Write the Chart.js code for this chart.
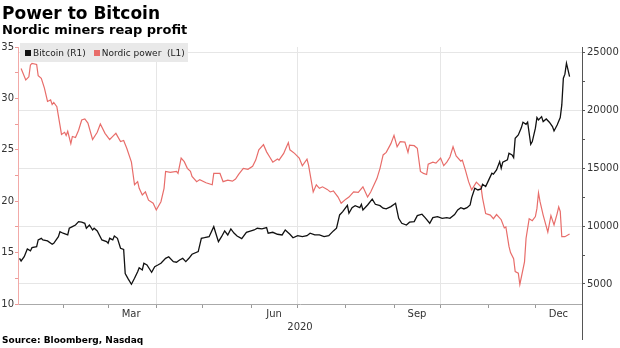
<!DOCTYPE html>
<html>
<head>
<meta charset="utf-8">
<title>Power to Bitcoin</title>
<script src="https://cdn.jsdelivr.net/npm/chart.js@4.4.1/dist/chart.umd.min.js"></script>
<style>
  body { margin: 0; background: #fff; }
  #wrap { position: relative; width: 620px; height: 348px; font-family: "DejaVu Sans", sans-serif; color: #000; }
  #chart { position: absolute; left: 0; top: 0; }
  .title { position: absolute; left: 2px; top: 3px; font-weight: bold; font-size: 17px; line-height: 20px; white-space: nowrap; }
  .subtitle { position: absolute; left: 2px; top: 22px; font-weight: bold; font-size: 13px; line-height: 16px; white-space: nowrap; }
  .legend { position: absolute; left: 20px; top: 43px; width: 168px; height: 19px; background: #e9e9e9;
            font-size: 9px; color: #222; display: flex; align-items: center; white-space: nowrap; }
  .legend .sw { display: inline-block; width: 6px; height: 6px; margin: 0 2px 0 5px; }
  .source { position: absolute; left: 2px; top: 335px; font-weight: bold; font-size: 9px; line-height: 11px; white-space: nowrap; }
</style>
</head>
<body>
<div id="wrap">
  <canvas id="chart" width="620" height="348"></canvas>
  <div class="title">Power to Bitcoin</div>
  <div class="subtitle">Nordic miners reap profit</div>
  <div class="legend">
    <span class="sw" style="background:#111"></span>Bitcoin (R1)
    <span class="sw" style="background:#e86d6a;margin-left:8px"></span>Nordic power&nbsp;&nbsp;(L1)
  </div>
  <div class="source">Source: Bloomberg, Nasdaq</div>
</div>
<script>
// day of year 2020 (Jan 1 = 0)
const btcDays = [
  3, 4, 6, 8, 10, 11, 14, 15, 17, 18,
  21, 24, 25, 28, 29, 31, 34, 35, 37, 39,
  41, 43, 45, 46, 48, 50, 51, 53, 56, 59,
  60, 61, 63, 64, 66, 68, 70, 71, 73, 75,
  77, 79, 80, 82, 83, 85, 88, 90, 92, 94,
  97, 99, 102, 104, 106, 108, 110, 112, 114, 118,
  120, 122, 125, 128, 129, 131, 133, 135, 137, 139,
  141, 143, 146, 149, 152, 154, 156, 159, 162, 163,
  166, 169, 172, 174, 177, 179, 182, 185, 188, 190,
  193, 196, 199, 202, 205, 207, 209, 211, 214, 215,
  217, 219, 222, 223, 224, 227, 230, 232, 235, 237,
  239, 242, 245, 247, 249, 252, 254, 257, 259, 262,
  264, 267, 269, 272, 275, 278, 280, 283, 285, 287,
  289, 291, 293, 294, 296, 298, 300, 301, 303, 305,
  307, 308, 310, 312, 313, 314, 317, 318, 320, 321,
  322, 324, 326, 327, 329, 330, 332, 333, 335, 336,
  337, 339, 340, 342, 344, 346, 347, 349, 351, 352,
  353, 354, 355, 356, 357
];
// Bitcoin, USD (right axis)
const btcPrice = [
  7220, 6990, 7360, 8030, 7860, 8140, 8230, 8810, 8950, 8810,
  8720, 8430, 8520, 9090, 9520, 9390, 9240, 9820, 9960, 10100,
  10390, 10340, 10250, 9820, 10100, 9670, 9820, 9590, 8810, 8660,
  8520, 8950, 8810, 9150, 8950, 8090, 7980, 5900, 5420, 4980,
  5490, 6060, 6410, 6210, 6790, 6640, 6010, 6500, 6640, 6790,
  7220, 7360, 6930, 6880, 7080, 7220, 6930, 7220, 7570, 7800,
  8950, 9000, 9090, 9960, 9520, 8660, 9090, 9590, 9240, 9760,
  9400, 9150, 8920, 9470, 9590, 9670, 9820, 9760, 9870, 9390,
  9470, 9300, 9240, 9670, 9300, 9000, 9180, 9090, 9180, 9390,
  9240, 9240, 9090, 9180, 9590, 9820, 10970, 11250, 11800, 11120,
  11600, 11770, 11600, 11890, 11400, 11830, 12330, 11890, 11770, 11550,
  11490, 11690, 11980, 10680, 10250, 10100, 10340, 10390, 10910, 11030,
  10740, 10250, 10740, 10820, 10680, 10740, 10680, 11000, 11400, 11600,
  11490, 11600, 11830, 12470, 13280, 13130, 13220, 13620, 13420, 14000,
  14580, 14490, 14860, 15580, 15010, 15530, 15730, 16310, 16160, 15930,
  17600, 17890, 18520, 18990, 18810, 18990, 17080, 17310, 18470, 19390,
  19190, 19470, 19040, 19270, 18990, 18610, 18230, 18750, 19390, 20480,
  22790, 23140, 24090, 23510, 22930
];

const powerDays = [
  4, 7, 9, 10, 11, 14, 15, 17, 19, 21,
  23, 24, 25, 27, 29, 30, 32, 33, 34, 36,
  37, 39, 41, 43, 45, 47, 50, 53, 55, 58,
  61, 63, 65, 68, 70, 72, 75, 77, 79, 80,
  82, 84, 86, 89, 91, 94, 96, 97, 100, 104,
  105, 107, 109, 111, 113, 114, 117, 119, 123, 127,
  128, 132, 134, 137, 140, 142, 144, 147, 150, 153,
  155, 157, 160, 162, 164, 166, 169, 170, 173, 174,
  176, 177, 180, 183, 185, 188, 189, 192, 194, 196,
  198, 201, 203, 205, 208, 210, 213, 215, 218, 221,
  224, 227, 229, 233, 235, 237, 239, 242, 244, 246,
  248, 251, 253, 254, 257, 259, 261, 263, 265, 266,
  269, 271, 274, 276, 278, 280, 282, 284, 287, 288,
  290, 292, 294, 297, 300, 301, 303, 306, 308, 310,
  313, 315, 316, 318, 319, 321, 322, 324, 325, 328,
  329, 331, 333, 335, 336, 337, 338, 340, 343, 345,
  347, 349, 350, 351, 352, 354, 357
];
// Nordic system power price, EUR/MWh (left axis)
const powerPrice = [
  32.9, 31.8, 32.1, 33.25, 33.4, 33.3, 32.2, 31.95, 31.0, 29.7,
  29.85, 29.4, 29.6, 29.2, 27.4, 26.5, 26.7, 26.4, 26.8, 25.6,
  26.3, 26.2, 26.9, 27.9, 28.0, 27.6, 26.0, 26.7, 27.5, 26.6,
  26.0, 26.3, 26.6, 25.8, 25.9, 25.15, 23.8, 21.6, 21.9, 21.25,
  20.6, 20.9, 20.1, 19.8, 19.15, 19.95, 21.25, 22.9, 22.8, 22.9,
  22.7, 24.2, 23.85, 23.2, 22.9, 22.4, 21.9, 22.1, 21.8, 21.6,
  22.7, 22.7, 21.9, 22.05, 21.95, 22.15, 22.6, 23.2, 23.1, 23.4,
  24.0, 25.0, 25.5, 24.8, 24.3, 23.8, 24.1, 24.0, 24.65, 25.0,
  25.7, 25.0, 24.65, 24.2, 23.45, 24.1, 23.5, 20.9, 21.6, 21.25,
  21.4, 21.15, 20.9, 21.0, 20.4, 19.8, 20.2, 20.4, 20.9, 20.85,
  21.4, 20.4, 20.9, 22.2, 23.2, 24.5, 24.75, 25.6, 26.4, 25.3,
  25.8, 25.75, 24.75, 25.45, 25.4, 25.15, 22.9, 22.7, 22.6, 23.6,
  23.8, 23.7, 24.2, 23.45, 23.8, 24.3, 25.3, 24.4, 23.9, 24.0,
  23.0, 21.9, 21.1, 21.85, 21.4, 20.3, 18.8, 18.65, 18.3, 18.7,
  18.2, 17.4, 17.5, 15.6, 15.0, 14.4, 13.15, 13.0, 11.9, 14.1,
  16.4, 18.3, 18.1, 18.5, 19.3, 20.8, 19.95, 18.65, 17.0, 18.6,
  17.7, 18.8, 19.45, 19.0, 16.55, 16.55, 16.8
];

const monthStarts = [31, 60, 91, 121, 152, 182, 213, 244, 274, 305, 335];
const monthNames = ['Feb', 'Mar', 'Apr', 'May', 'Jun', 'Jul', 'Aug', 'Sep', 'Oct', 'Nov', 'Dec'];
const labelledMonths = ['Mar', 'Jun', 'Sep', 'Dec'];
const quarterStarts = [91, 182, 274];
const leftTicks = [10, 12.5, 15, 17.5, 20, 22.5, 25, 27.5, 30, 32.5, 35];
const rightTicks = [5000, 7500, 10000, 12500, 15000, 17500, 20000, 22500, 25000];

const toPoints = (xs, ys) => xs.map((x, i) => ({ x: x, y: ys[i] }));

// right axis line runs on below the date axis
const axisTail = {
  id: 'axisTail',
  afterDraw(chart) {
    const { ctx, chartArea } = chart;
    ctx.save();
    ctx.strokeStyle = '#555';
    ctx.lineWidth = 1;
    ctx.beginPath();
    ctx.moveTo(Math.round(chartArea.right) + 0.5, chartArea.bottom);
    ctx.lineTo(Math.round(chartArea.right) + 0.5, chartArea.bottom + 36);
    ctx.stroke();
    ctx.restore();
  }
};

Chart.defaults.font.family = '"DejaVu Sans", sans-serif';
Chart.defaults.font.size = 10;
Chart.defaults.color = '#333';

new Chart(document.getElementById('chart').getContext('2d'), {
  type: 'line',
  data: {
    datasets: [
      {
        label: 'Bitcoin (R1)',
        data: toPoints(btcDays, btcPrice),
        yAxisID: 'y1',
        borderColor: '#111',
        borderWidth: 1.3,
        pointRadius: 0,
        tension: 0
      },
      {
        label: 'Nordic power (L1)',
        data: toPoints(powerDays, powerPrice),
        yAxisID: 'y',
        borderColor: '#e86d6a',
        borderWidth: 1.2,
        pointRadius: 0,
        tension: 0
      }
    ]
  },
  options: {
    responsive: false,
    animation: false,
    layout: { padding: { top: 47, bottom: 15, left: 0, right: 0 } },
    plugins: { legend: { display: false }, tooltip: { enabled: false } },
    scales: {
      x: {
        type: 'linear',
        min: 2,
        max: 365,
        afterBuildTicks: (scale) => { scale.ticks = monthStarts.map(v => ({ value: v })); },
        afterFit: (scale) => { scale.height = 29; },
        grid: {
          color: (c) => quarterStarts.includes(c.tick && c.tick.value) ? '#e6e6e6' : 'rgba(0,0,0,0)',
          tickColor: '#999',
          tickLength: 4
        },
        border: { color: '#aaa' },
        ticks: {
          autoSkip: false,
          maxRotation: 0,
          padding: 0,
          labelOffset: 23,
          callback: (v) => {
            const name = monthNames[monthStarts.indexOf(v)];
            return labelledMonths.includes(name) ? name : '';
          }
        },
        title: { display: true, text: '2020', color: '#333', font: { size: 10 }, padding: { top: 0, bottom: 0 } }
      },
      y: {
        position: 'left',
        min: 10,
        max: 35,
        afterBuildTicks: (scale) => { scale.ticks = leftTicks.map(v => ({ value: v })); },
        afterFit: (scale) => { scale.width = 18; },
        grid: { drawOnChartArea: false, color: '#ee9a98', tickLength: 3 },
        border: { color: '#f2aaa8' },
        ticks: { padding: 1, callback: (v) => (v % 5 === 0 ? v : '') }
      },
      y1: {
        position: 'right',
        min: 3270,
        max: 25490,
        afterBuildTicks: (scale) => { scale.ticks = rightTicks.map(v => ({ value: v })); },
        afterFit: (scale) => { scale.width = 38; },
        grid: {
          color: (c) => (c.tick && c.tick.value % 5000 === 0) ? '#e6e6e6' : 'rgba(0,0,0,0)',
          tickColor: '#555',
          tickLength: 3
        },
        border: { color: '#555' },
        ticks: { padding: 2, callback: (v) => (v % 5000 === 0 ? String(v) : '') }
      }
    }
  },
  plugins: [axisTail]
});
</script>
</body>
</html>
